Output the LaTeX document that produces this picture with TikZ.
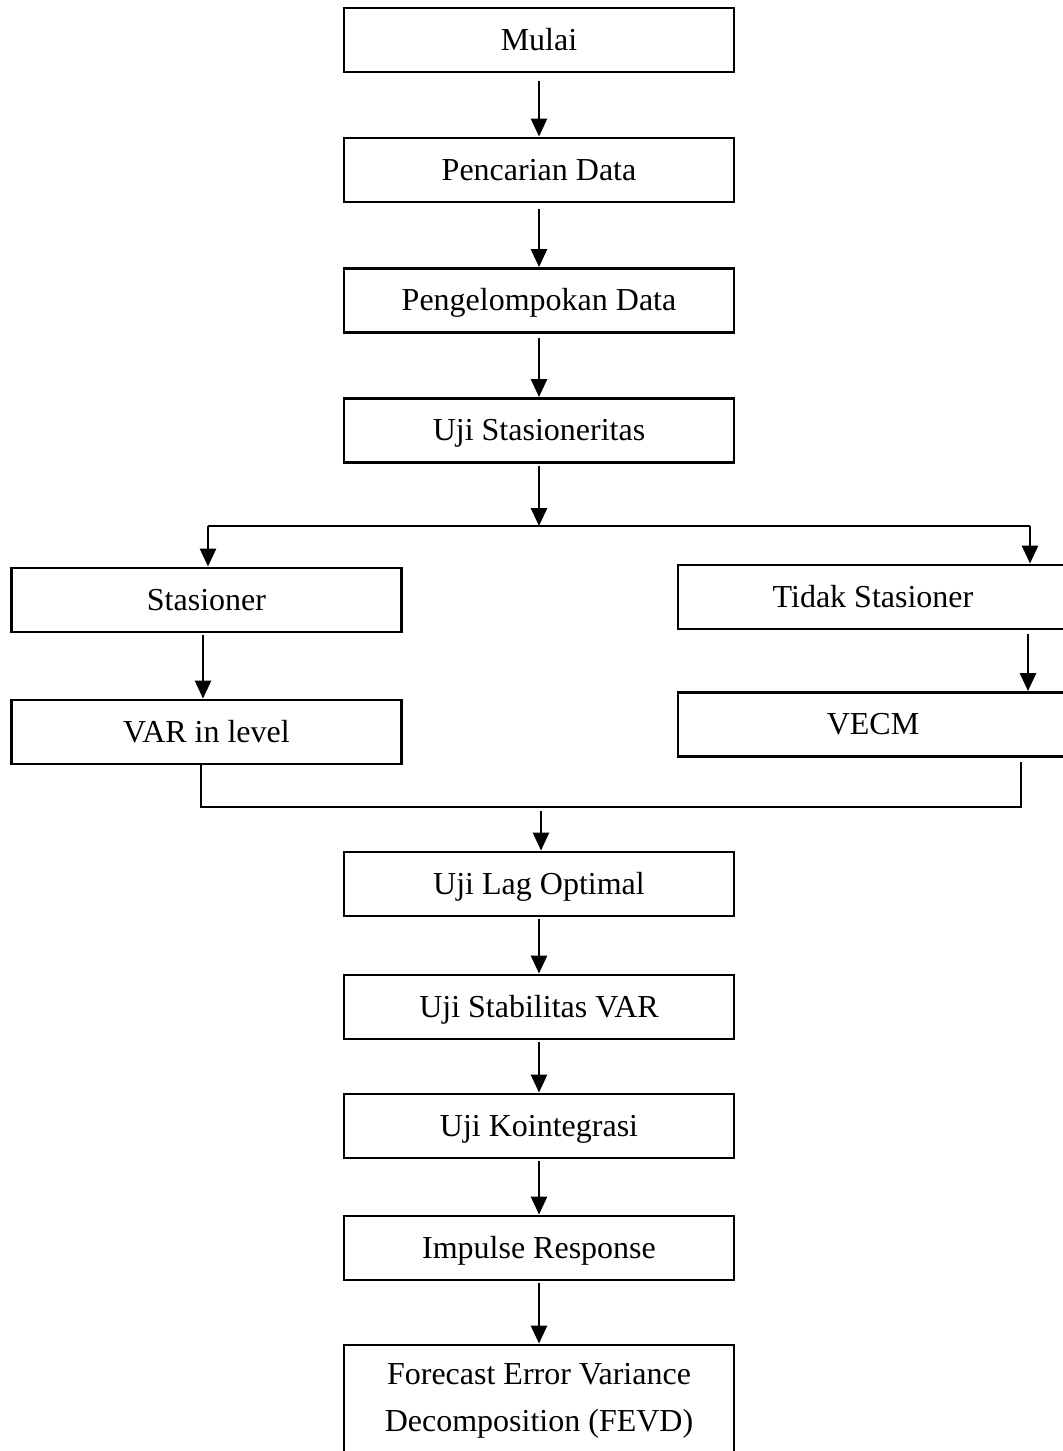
\documentclass[tikz,border=0pt]{standalone}
\usepackage{fontspec}
\setmainfont{Liberation Serif}
\usetikzlibrary{arrows.meta}
\begin{document}
\begin{tikzpicture}[x=0.5pt,y=-0.5pt,
  box/.style={draw, line width=1.45pt, minimum width=195pt, minimum height=32pt,
    inner sep=0pt, font=\fontsize{16}{23.5}\selectfont, align=center,
    text height=11.5pt, text depth=1.5pt},
  arr/.style={line width=1.35pt, -{Triangle[length=9pt,width=8pt]}},
  ln/.style={line width=1.35pt}]
\useasboundingbox (0,0) rectangle (1062,1451);

% main column
\node[box] (mulai) at (539,40) {Mulai};
\node[box] (cari) at (539,170) {Pencarian Data};
\node[box] (kelompok) at (539,300.5) {Pengelompokan Data};
\node[box] (uji) at (539,430.5) {Uji Stasioneritas};

% branches
\node[box] (stas) at (206.5,600) {Stasioner};
\node[box] (tidak) at (873,597) {Tidak Stasioner};
\node[box] (var) at (206.5,732) {VAR in level};
\node[box] (vecm) at (873,724.5) {VECM};

% lower column
\node[box] (lag) at (539,884) {Uji Lag Optimal};
\node[box] (stab) at (539,1007) {Uji Stabilitas VAR};
\node[box] (koin) at (539,1126) {Uji Kointegrasi};
\node[box] (imp) at (539,1248) {Impulse Response};
\node[box, minimum height=55pt, text height=32.5pt, text depth=1.5pt] (fevd) at (539,1400)
  {Forecast Error Variance\\Decomposition (FEVD)};

% connector coordinates
\coordinate (bj) at (539,526);
\coordinate (bL) at (208,526);
\coordinate (bR) at (1030,526);
\coordinate (tv) at (1028,634);
\coordinate (mL) at (201,807);
\coordinate (mR) at (1021,807);
\coordinate (mRt) at (1021,762);
\coordinate (mj) at (541,811);

% straight arrows
\draw[arr] ([yshift=-4pt]mulai.south) -- (cari.north);
\draw[arr] ([yshift=-3pt]cari.south) -- (kelompok.north);
\draw[arr] ([yshift=-2pt]kelompok.south) -- (uji.north);
\draw[arr] ([yshift=-1pt]uji.south) -- (bj);

% split
\draw[ln] (bL) -- (bR);
\draw[arr] (bL) -- (bL |- stas.north);
\draw[arr] (bR) -- (bR |- tidak.north);
\draw[arr] ([yshift=-1pt]stas.south -| 203,0) -- (var.north -| 203,0);
\draw[arr] (tv) -- (tv |- vecm.north);

% merge
\draw[ln] (var.south -| mL) -- (mL) -- (mR) -- (mRt);
\draw[arr] (mj) -- (lag.north -| mj);

\draw[arr] ([yshift=-1pt]lag.south) -- (stab.north);
\draw[arr] ([yshift=-1pt]stab.south) -- (koin.north);
\draw[arr] ([yshift=-1pt]koin.south) -- (imp.north);
\draw[arr] ([yshift=-1pt]imp.south) -- (fevd.north);
\end{tikzpicture}
\end{document}
